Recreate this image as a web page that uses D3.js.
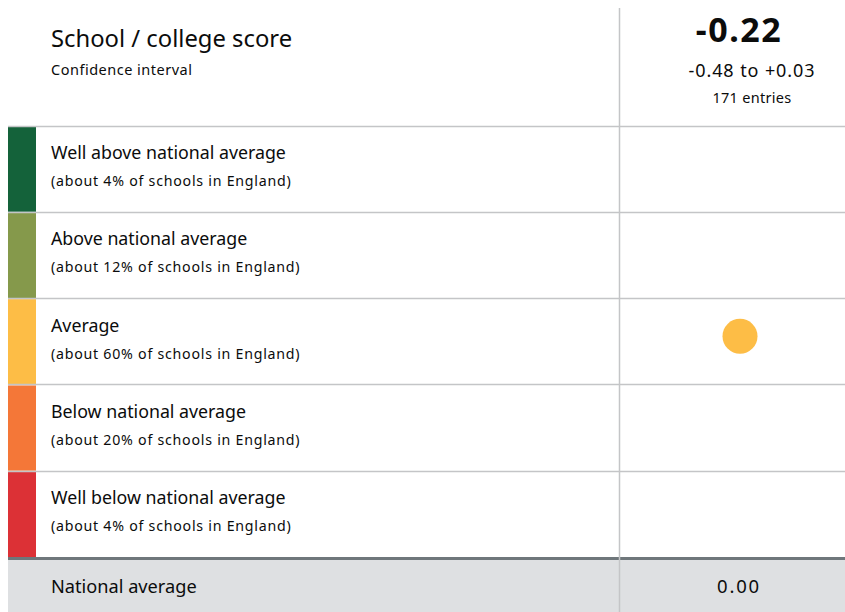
<!DOCTYPE html>
<html><head><meta charset="utf-8">
<script src="https://cdn.jsdelivr.net/npm/d3@7"></script>
<style>
html,body{margin:0;padding:0;background:#fff;}
svg{display:block;font-family:"Noto Sans",Lato,sans-serif;}
</style></head>
<body><div id="chart"></div>
<script>
const bandLabels = ["Well above national average","Above national average","Average","Below national average","Well below national average"];
const bandShares = ["(about 4% of schools in England)","(about 12% of schools in England)","(about 60% of schools in England)","(about 20% of schools in England)","(about 4% of schools in England)"];
const bandColors = ["#14623a","#85994b","#fdbd46","#f47738","#dc3136"];
const scoreTitle = "School / college score";
const ciTitle = "Confidence interval";
const score = -0.22;
const ciLow = -0.48, ciHigh = 0.03;
const entries = 171;
const scoreBand = "Average";
const nationalLabel = "National average";
const nationalValue = 0.00;

const W = 845, H = 612;
const svg = d3.select("#chart").append("svg").attr("width", W).attr("height", H);
const text = "#0b0c0c", border = "#c4c5c7";

const y = d3.scaleBand().domain(bandLabels).range([125.5, 557]).paddingInner(0);
const xCol = d3.scaleOrdinal().domain(["label","score","detail"]).range([51, 739, 752]);
const fmt = d3.format("+.2f");
const fmtS = v => (v < 0 ? "-" : "") + Math.abs(v).toFixed(2);

// national average band
svg.append("rect").attr("x", 8).attr("y", 559).attr("width", W - 8).attr("height", H - 559).attr("fill", "#dee0e2");
svg.append("rect").attr("x", 8).attr("y", 557).attr("width", W - 8).attr("height", 3).attr("fill", "#6f777b");

// rows
const rows = svg.append("g").selectAll("g").data(bandLabels).join("g");
rows.append("rect").attr("x", 8).attr("y", d => y(d) + 1).attr("width", 28).attr("height", y.bandwidth() - 1)
  .attr("fill", (d, i) => bandColors[i]);
rows.append("line").attr("x1", 8).attr("x2", W).attr("y1", d => Math.round(y(d)) + 0.5).attr("y2", d => Math.round(y(d)) + 0.5)
  .attr("stroke", border).attr("stroke-width", 1.5);
rows.append("text").attr("x", xCol("label")).attr("y", d => y(d) + 33.5)
  .attr("font-size", 17.8).attr("fill", text).text(d => d);
rows.append("text").attr("x", xCol("label")).attr("y", (d) => y(d) + 60.5)
  .attr("font-size", 14.2).attr("letter-spacing", 0.75).attr("fill", text).text((d, i) => bandShares[i]);

// vertical divider
svg.append("line").attr("x1", 619.5).attr("x2", 619.5).attr("y1", 8).attr("y2", H).attr("stroke", border).attr("stroke-width", 1.5);

// header
svg.append("text").attr("x", xCol("label")).attr("y", 47).attr("font-size", 23.8).attr("fill", text).text(scoreTitle);
svg.append("text").attr("x", xCol("label")).attr("y", 75).attr("font-size", 14.5).attr("letter-spacing", 0.5).attr("fill", text).text(ciTitle);
svg.append("text").attr("x", xCol("score")).attr("y", 42).attr("text-anchor", "middle").attr("font-size", 34).attr("letter-spacing", 1.5).attr("font-weight", "bold")
  .attr("fill", text).text(fmtS(score));
svg.append("text").attr("x", xCol("detail")).attr("y", 77).attr("text-anchor", "middle").attr("font-size", 18).attr("letter-spacing", 0.9).attr("fill", text)
  .text(fmtS(ciLow) + " to " + fmt(ciHigh));
svg.append("text").attr("x", xCol("detail")).attr("y", 103).attr("text-anchor", "middle").attr("font-size", 14.5).attr("letter-spacing", 0.3).attr("fill", text)
  .text(entries + " entries");

// score dot
svg.append("circle").attr("cx", 740).attr("cy", y(scoreBand) + y.bandwidth() / 2 - 5).attr("r", 17.5)
  .attr("fill", bandColors[bandLabels.indexOf(scoreBand)]);

// national average row
svg.append("text").attr("x", xCol("label")).attr("y", 593).attr("font-size", 18.2).attr("fill", text).text(nationalLabel);
svg.append("text").attr("x", xCol("score")).attr("y", 593).attr("text-anchor", "middle").attr("font-size", 18.5).attr("letter-spacing", 1.8).attr("fill", text)
  .text(nationalValue.toFixed(2));
</script></body></html>
